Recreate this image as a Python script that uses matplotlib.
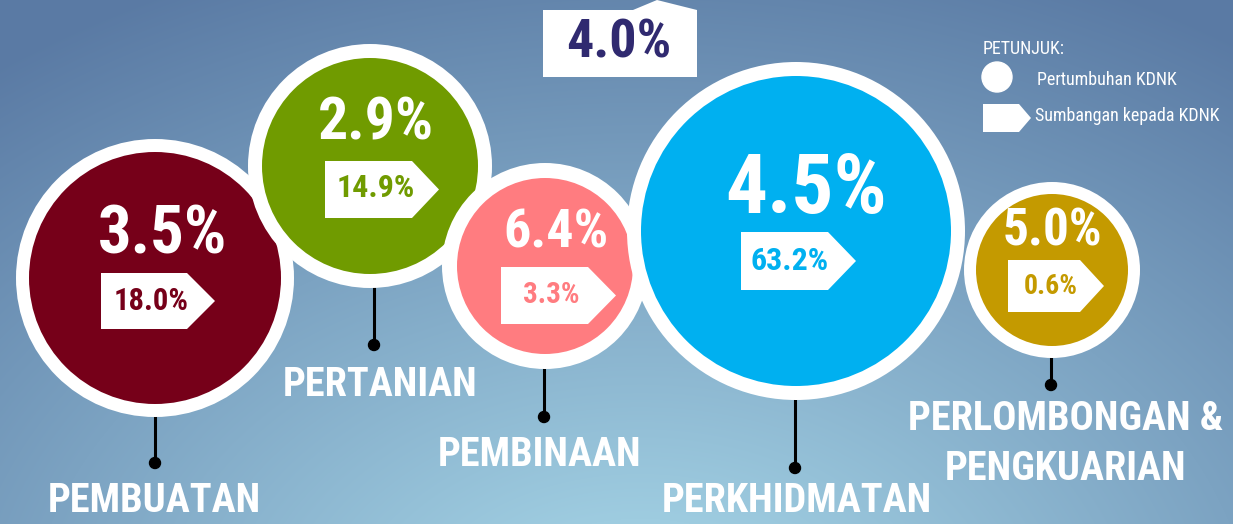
import numpy as np
import matplotlib
matplotlib.use('Agg')
import matplotlib.pyplot as plt
from matplotlib import font_manager
from matplotlib.font_manager import FontProperties
from matplotlib.patches import Circle, Polygon

# ---------- data ----------
sectors = ['PEMBUATAN', 'PERTANIAN', 'PEMBINAAN', 'PERKHIDMATAN',
           'PERLOMBONGAN &\nPENGKUARIAN']
growth = [3.5, 2.9, 6.4, 4.5, 5.0]          # pertumbuhan KDNK (%)
share = [18.0, 14.9, 3.3, 63.2, 0.6]         # sumbangan kepada KDNK (%)
overall_growth = 4.0
colors = ['#760019', '#709b00', '#ff7c80', '#00b0f0', '#c49a00']

# ---------- layout (pixels, y downwards) ----------
W, H = 1233, 524
centers = [(155, 278), (370, 166), (545, 266), (796, 231), (1052, 270)]
outer_r = [139, 122, 103, 169, 88]
inner_r = [126, 108, 88, 155, 76]
big_pos = [(163, 236), (376, 124), (556, 233), (806, 190), (1052, 232)]
big_size = [48, 43, 39, 60, 37]
tag_box = [(101, 187, 215, 273, 329), (325, 412, 439, 161, 218),
           (501, 588, 616, 267, 324), (741, 828, 856, 232, 290),
           (1008, 1080, 1104, 260, 312)]
tag_text = [(151, 301), (376, 188), (551, 295), (790, 261), (1051, 287)]
tag_size = [22, 23, 21, 23, 20]
stem = [(155, 463), (374, 345), (544, 417), (795, 468), (1051, 385)]
label_pos = [(154, 501), (380, 385), (540, 455), (797, 501), (1066, 444)]


def _weight(f):
    w = f.weight
    if isinstance(w, str):
        w = font_manager.weight_dict.get(w, 400)
    return w


def narrow_font(bold):
    # look for a condensed / narrow latin sans face
    prefs = ['Roboto Condensed', 'Liberation Sans Narrow', 'Noto Sans Condensed',
             'Open Sans Condensed', 'DejaVu Sans Condensed', 'Noto Sans', 'DejaVu Sans']
    found = []
    for f in font_manager.fontManager.ttflist:
        if 'CJK' in f.name or f.style != 'normal':
            continue
        narrow = (f.stretch in ('condensed', 'semi-condensed', 'extra-condensed')
                  or 'Condensed' in f.name or 'Narrow' in f.name
                  or 'ondensed' in f.fname or 'Narrow' in f.fname)
        if not narrow:
            continue
        w = _weight(f)
        if (bold and w >= 700) or (not bold and 380 <= w <= 450):
            found.append(f)
    if found:
        found.sort(key=lambda f: next((i for i, p in enumerate(prefs) if p in f.name), 99))
        return FontProperties(fname=found[0].fname)
    return FontProperties(family='Roboto', weight='bold' if bold else 'normal')


fp_bold = narrow_font(True)
fp_reg = narrow_font(False)

fig = plt.figure(figsize=(W / 100, H / 100), dpi=100)
ax = fig.add_axes([0, 0, 1, 1])
ax.set_xlim(0, W)
ax.set_ylim(H, 0)
ax.axis('off')

# radial background: light at bottom centre, darker blue-grey towards top corners
yy, xx = np.mgrid[0:H, 0:W]
d = np.hypot((xx - 640) * 0.8, (yy - 640) * 1.15)
t = np.clip((d - 140) / 700, 0, 1)[..., None]
light = np.array([158, 204, 224]) / 255
dark = np.array([90, 122, 164]) / 255
bg = light * (1 - t) + dark * t
ax.imshow(bg, extent=[0, W, H, 0], zorder=0, aspect='auto')

# stems with end dots
for (cx, cy), R, (sx, sy) in zip(centers, outer_r, stem):
    ax.plot([sx, sx], [cy + R - 5, sy], color='black', lw=2.2, zorder=1,
            solid_capstyle='butt')
    ax.add_patch(Circle((sx, sy), 5.5, color='black', zorder=1))

# bubbles
for i in range(len(sectors)):
    z = 2 + i * 3
    cx, cy = centers[i]
    ax.add_patch(Circle((cx, cy), outer_r[i], color='white', zorder=z, lw=0))
    ax.add_patch(Circle((cx, cy), inner_r[i], color=colors[i], zorder=z, lw=0))
    bx, by = big_pos[i]
    ax.text(bx, by, f'{growth[i]:.1f}%', color='white', fontproperties=fp_bold,
            fontsize=big_size[i], ha='center', va='center', zorder=z + 1)
    x0, x1, tip, y0, y1 = tag_box[i]
    ax.add_patch(Polygon([(x0, y0), (x1, y0), (tip, (y0 + y1) / 2), (x1, y1), (x0, y1)],
                         closed=True, color='white', lw=0, zorder=z + 1))
    tx, ty = tag_text[i]
    ax.text(tx, ty, f'{share[i]:.1f}%', color=colors[i], fontproperties=fp_bold,
            fontsize=tag_size[i], ha='center', va='center', zorder=z + 2)
    lx, ly = label_pos[i]
    ax.text(lx, ly, sectors[i], color='white', fontproperties=fp_bold, fontsize=29,
            ha='center', va='center', linespacing=1.4, zorder=20)

# overall growth tag at the top
ax.add_patch(Polygon([(543, 77), (543, 10), (633, 10), (657, 0), (697, 10), (697, 77)],
                     closed=True, color='white', lw=0, zorder=20))
ax.text(619, 43, f'{overall_growth:.1f}%', color='#302a70', fontproperties=fp_bold,
        fontsize=39, ha='center', va='center', zorder=21)

# legend
ax.text(983, 49, 'PETUNJUK:', color='white', fontproperties=fp_reg, fontsize=13,
        ha='left', va='center', zorder=20)
ax.add_patch(Circle((997, 77), 15, color='white', zorder=20))
ax.text(1037, 80, 'Pertumbuhan KDNK', color='white', fontproperties=fp_reg, fontsize=13,
        ha='left', va='center', zorder=20)
ax.add_patch(Polygon([(983, 104), (1019, 104), (1031, 118), (1019, 132), (983, 132)],
                     closed=True, color='white', lw=0, zorder=20))
ax.text(1035, 116, 'Sumbangan kepada KDNK', color='white', fontproperties=fp_reg,
        fontsize=13, ha='left', va='center', zorder=20)

fig.savefig('out.png', dpi=100)
